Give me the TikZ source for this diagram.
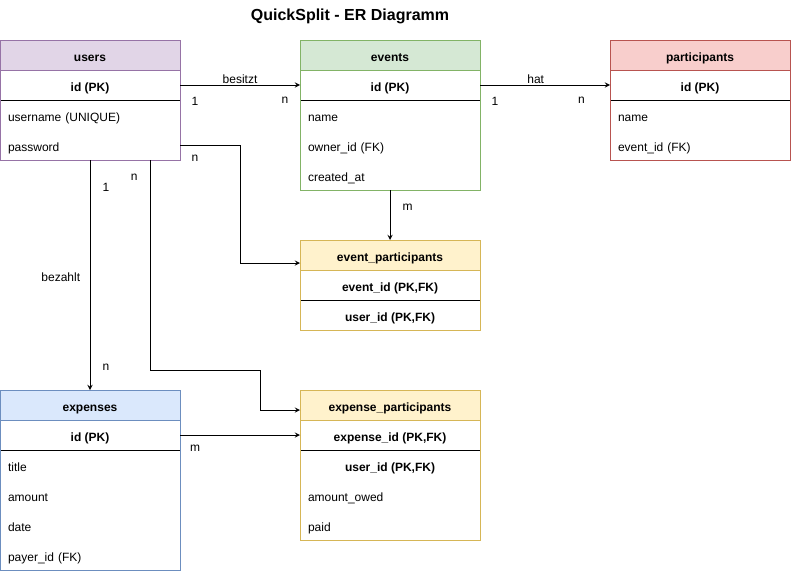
\documentclass[tikz,border=0pt]{standalone}
\usepackage{fontspec}
\setmainfont{Liberation Sans}
\usepackage{tikz}
\usetikzlibrary{arrows,positioning}
\definecolor{usrfill}{HTML}{E1D5E7}
\definecolor{usrline}{HTML}{9673A6}
\definecolor{evtfill}{HTML}{D5E8D4}
\definecolor{evtline}{HTML}{82B366}
\definecolor{prtfill}{HTML}{F8CECC}
\definecolor{prtline}{HTML}{B85450}
\definecolor{lnkfill}{HTML}{FFF2CC}
\definecolor{lnkline}{HTML}{D6B656}
\definecolor{expfill}{HTML}{DAE8FC}
\definecolor{expline}{HTML}{6C8EBF}
\tikzstyle{arrow} = [->,>=stealth,line width=0.75pt]
\tikzstyle{tblhead} = [rectangle, minimum width=135pt, minimum height=22.5pt, inner sep=0pt, outer sep=0pt, text height=9.5pt, text depth=0pt, line width=0.75pt, font=\fontsize{9}{11}\selectfont\bfseries]
\tikzstyle{pkrow} = [rectangle, minimum width=135pt, minimum height=22.5pt, inner sep=0pt, outer sep=0pt, text height=9.5pt, text depth=0pt, font=\fontsize{9}{11}\selectfont\bfseries]
\tikzstyle{attr} = [rectangle, text width=123pt, align=left, minimum height=22.5pt, inner xsep=6pt, inner ysep=0pt, outer sep=0pt, text height=9.5pt, text depth=0pt, font=\fontsize{9}{11}\selectfont]
\tikzstyle{lbl} = [inner sep=1pt, font=\fontsize{9}{11}\selectfont]
\tikzstyle{frame} = [line width=0.75pt]

\begin{document}
\begin{tikzpicture}[x=0.75pt, y=-0.75pt]
\useasboundingbox (0,0) rectangle (791,571);

\node (title) [font=\fontsize{12}{14}\selectfont\bfseries] at (350,16) {QuickSplit - ER Diagramm};

% users
\node (uhdr) [tblhead, fill=usrfill, draw=usrline] at (90,55) {users};
\node (uid) [pkrow, below=0pt of uhdr] {id (PK)};
\node (uname) [attr, below=0pt of uid] {username (UNIQUE)};
\node (upw) [attr, below=0pt of uname] {password};
\draw[frame] (uid.south west) -- (uid.south east);
\draw[frame, usrline] (uhdr.north west) rectangle (upw.south east);

% events
\node (ehdr) [tblhead, fill=evtfill, draw=evtline] at (390,55) {events};
\node (eid) [pkrow, below=0pt of ehdr] {id (PK)};
\node (ename) [attr, below=0pt of eid] {name};
\node (eowner) [attr, below=0pt of ename] {owner\_id (FK)};
\node (ecreated) [attr, below=0pt of eowner] {created\_at};
\draw[frame] (eid.south west) -- (eid.south east);
\draw[frame, evtline] (ehdr.north west) rectangle (ecreated.south east);

% participants
\node (phdr) [tblhead, fill=prtfill, draw=prtline] at (700,55) {participants};
\node (pid) [pkrow, below=0pt of phdr] {id (PK)};
\node (pname) [attr, below=0pt of pid] {name};
\node (pevent) [attr, below=0pt of pname] {event\_id (FK)};
\draw[frame] (pid.south west) -- (pid.south east);
\draw[frame, prtline] (phdr.north west) rectangle (pevent.south east);

% event_participants
\node (ephdr) [tblhead, fill=lnkfill, draw=lnkline] at (390,255) {event\_participants};
\node (epevent) [pkrow, below=0pt of ephdr] {event\_id (PK,FK)};
\node (epuser) [pkrow, below=0pt of epevent] {user\_id (PK,FK)};
\draw[frame] (epevent.south west) -- (epevent.south east);
\draw[frame, lnkline] (ephdr.north west) rectangle (epuser.south east);

% expenses
\node (xhdr) [tblhead, fill=expfill, draw=expline] at (90,405) {expenses};
\node (xid) [pkrow, below=0pt of xhdr] {id (PK)};
\node (xtitle) [attr, below=0pt of xid] {title};
\node (xamount) [attr, below=0pt of xtitle] {amount};
\node (xdate) [attr, below=0pt of xamount] {date};
\node (xpayer) [attr, below=0pt of xdate] {payer\_id (FK)};
\draw[frame] (xid.south west) -- (xid.south east);
\draw[frame, expline] (xhdr.north west) rectangle (xpayer.south east);

% expense_participants
\node (xphdr) [tblhead, fill=lnkfill, draw=lnkline] at (390,405) {expense\_participants};
\node (xpexp) [pkrow, below=0pt of xphdr] {expense\_id (PK,FK)};
\node (xpuser) [pkrow, below=0pt of xpexp] {user\_id (PK,FK)};
\node (xpowed) [attr, below=0pt of xpuser] {amount\_owed};
\node (xppaid) [attr, below=0pt of xpowed] {paid};
\draw[frame] (xpexp.south west) -- (xpexp.south east);
\draw[frame, lnkline] (xphdr.north west) rectangle (xppaid.south east);

% relations
\draw[arrow] (uid.east) -- node[lbl, above] {besitzt}
  node[lbl, pos=0.125, below=8pt] {1} node[lbl, pos=0.875, below=8pt] {n} (eid.west);
\draw[arrow] (eid.east) -- node[lbl, above, xshift=-7pt] {hat}
  node[lbl, pos=0.115, below=8pt] {1} node[lbl, pos=0.78, below=8pt] {n} (pid.west);
\draw[arrow] (upw.east) -- node[lbl, pos=0.25, below=6pt] {n} ++(60,0) |- ([yshift=-6pt]ephdr.west);
\draw[arrow] (ecreated.south) -- node[lbl, pos=0.35, right=8pt] {m} (ephdr.north);
\draw[arrow] (upw.south -| uid.south) -- node[lbl, pos=0.117, right=8pt] {1}
  node[lbl, pos=0.51, left=6pt] {bezahlt} node[lbl, pos=0.9, right=8pt] {n} (xhdr.north);
\draw[arrow] ([xshift=45pt]upw.south) -- node[lbl, pos=0.08, left=8pt] {n} ++(0,210)
  -- ++(110,0) |- ([yshift=-3.75pt]xphdr.west);
\draw[arrow] (xid.east) -- node[lbl, pos=0.125, below=6pt] {m} (xpexp.west);
\end{tikzpicture}
\end{document}
